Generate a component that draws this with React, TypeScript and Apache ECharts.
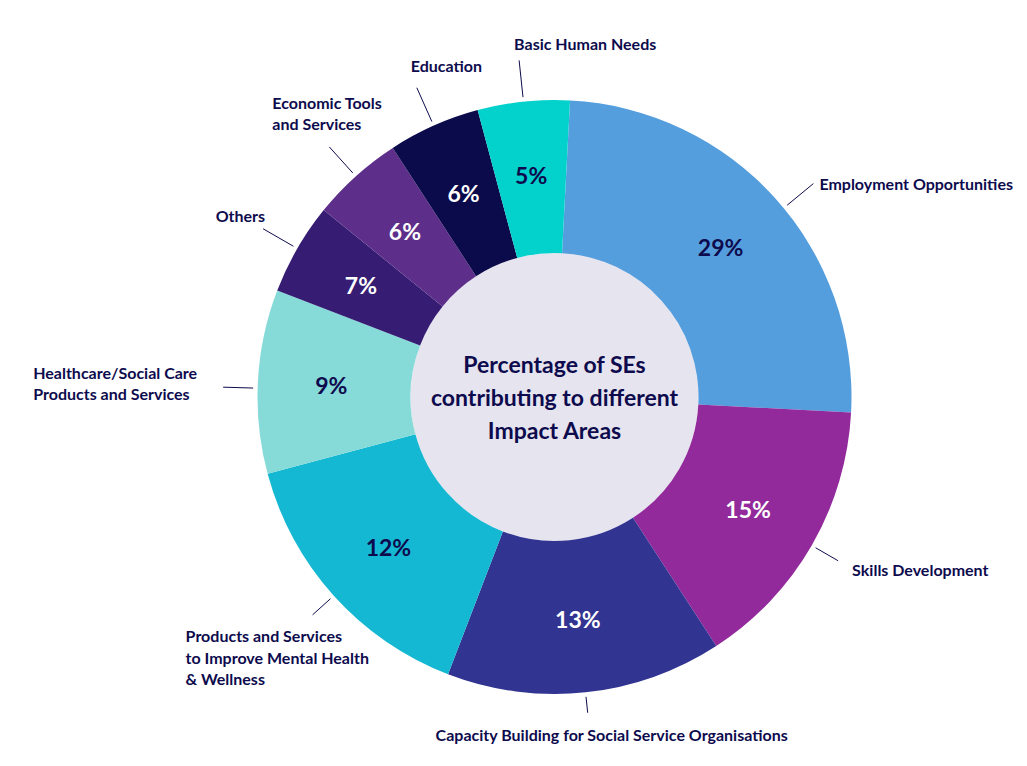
import React, { useEffect, useRef } from "react";
import * as echarts from "echarts";

// ---- data ----
const categories = [
  "Employment Opportunities",
  "Skills Development",
  "Capacity Building for Social Service Organisations",
  "Products and Services\nto Improve Mental Health\n& Wellness",
  "Healthcare/Social Care\nProducts and Services",
  "Others",
  "Economic Tools\nand Services",
  "Education",
  "Basic Human Needs",
];
// slice sizes as drawn (share of the ring)
const shares = [25, 15, 15, 15, 10, 5, 5, 5, 5];
// percentages printed on the slices
const percentLabels = ["29%", "15%", "13%", "12%", "9%", "7%", "6%", "6%", "5%"];
const title = "Percentage of SEs\ncontributing to different\nImpact Areas";

// ---- style ----
const colors = ["#559edd", "#932a9b", "#313491", "#14b8d2", "#86dad8", "#361d73", "#5d2f8a", "#0b0a4a", "#03d1cc"];
const pctColors = ["#0d0b4d", "#ffffff", "#ffffff", "#0d0b4d", "#0d0b4d", "#ffffff", "#ffffff", "#ffffff", "#0d0b4d"];
const NAVY = "#0d0b4d";
const FONT = "Lato, 'Liberation Sans Narrow', Roboto, sans-serif";
const CX = 554.5;
const CY = 397;
const R_IN = 144;
const R_OUT = 297;
const R_LINE = 301.5;
// label layout: [angle shift, line length, dx, dy, align, verticalAlign, mode]
const labelPlace: any[] = [
  [2.5, 34, 6, 0, "left", "middle", ""],
  [0, 26, 14, 9, "left", "middle", ""],
  [0, 16, 24, 22, "center", "middle", ""],
  [0, 24, -127, 10, "left", "top", ""],
  [-1.3, 30, -26, -4, "left", "middle", "leftOf"],
  [0, 35, 2, -13, "right", "middle", ""],
  [0, 35, -57, -34, "left", "middle", ""],
  [0, 37, -6, -22, "left", "middle", ""],
  [0, 37, -5, -17, "left", "middle", ""],
];

export default function App() {
  const ref = useRef<HTMLDivElement>(null);
  useEffect(() => {
    if (!ref.current) return;
    const chart = echarts.init(ref.current, null, { renderer: "svg" });
    const mainData = categories.map((name, i) => ({
      name,
      value: shares[i],
      itemStyle: { color: colors[i] },
      label: { color: pctColors[i] },
    }));
    const ringData = categories.map((name, i) => ({ name, value: shares[i] }));
    chart.setOption({
      animation: false,
      backgroundColor: "#ffffff",
      series: [
        {
          type: "pie",
          center: [CX, CY],
          radius: [0, R_IN],
          silent: true,
          data: [{ name: "center", value: 1, itemStyle: { color: "#e6e4ee" } }],
          label: {
            show: true,
            position: "center",
            formatter: title,
            color: NAVY,
            fontFamily: FONT,
            fontWeight: "bold",
            fontSize: 23,
            lineHeight: 33,
          },
          labelLine: { show: false },
          emphasis: { disabled: true },
        },
        {
          type: "pie",
          center: [CX, CY],
          radius: [R_IN, R_OUT],
          startAngle: 87,
          clockwise: true,
          silent: true,
          avoidLabelOverlap: false,
          data: mainData,
          label: {
            show: true,
            position: "inside",
            formatter: (p: any) => percentLabels[p.dataIndex],
            fontFamily: FONT,
            fontWeight: "bold",
            fontSize: 23,
          },
          labelLine: { show: false },
          emphasis: { disabled: true },
        },
        {
          type: "pie",
          center: [CX, CY],
          radius: [R_OUT, R_LINE],
          startAngle: 87,
          clockwise: true,
          silent: true,
          avoidLabelOverlap: false,
          itemStyle: { color: "rgba(0,0,0,0)" },
          data: ringData,
          label: {
            show: true,
            position: "outside",
            alignTo: "none",
            formatter: "{b}",
            color: NAVY,
            fontFamily: FONT,
            fontWeight: "bold",
            fontSize: 16,
            lineHeight: 21.5,
          },
          labelLine: {
            show: true,
            length: 30,
            length2: 0,
            lineStyle: { color: NAVY, width: 1 },
          },
          labelLayout: (params: any) => {
            const i = params.dataIndex;
            const [shift, len, dx, dy, align, va, mode] = labelPlace[i];
            const p0 = params.labelLinePoints ? params.labelLinePoints[0] : [CX, CY - R_LINE];
            let a = Math.atan2(p0[0] - CX, -(p0[1] - CY)) + (shift * Math.PI) / 180;
            const sx = CX + R_LINE * Math.sin(a);
            const sy = CY - R_LINE * Math.cos(a);
            const ex = CX + (R_LINE + len) * Math.sin(a);
            const ey = CY - (R_LINE + len) * Math.cos(a);
            let x = ex + dx;
            if (mode === "leftOf") x = ex + dx - params.labelRect.width;
            return {
              x,
              y: ey + dy,
              align,
              verticalAlign: va,
              labelLinePoints: [
                [sx, sy],
                [ex, ey],
                [ex, ey],
              ],
            };
          },
          emphasis: { disabled: true },
        },
      ],
    });
    return () => chart.dispose();
  }, []);
  return <div ref={ref} style={{ position: "fixed", left: 0, top: 0, width: 1027, height: 766 }} />;
}
